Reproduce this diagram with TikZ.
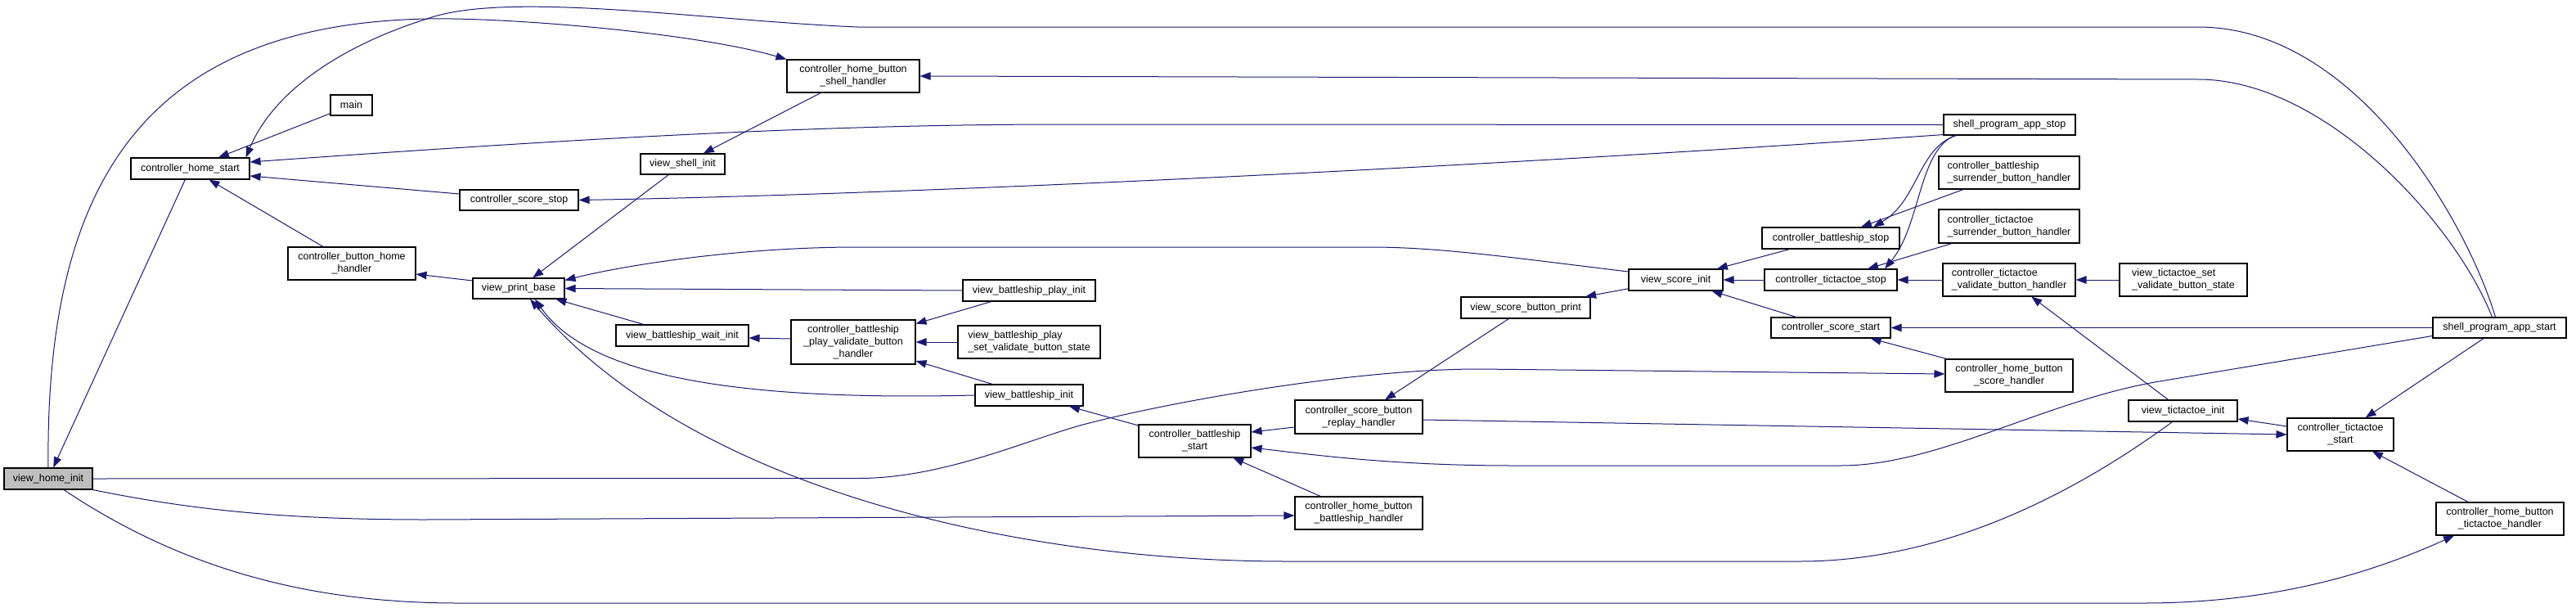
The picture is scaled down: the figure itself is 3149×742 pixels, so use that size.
\documentclass[tikz,border=0pt]{standalone}
\usepackage{fontspec}
\setmainfont{Liberation Sans}
\usepackage{xcolor}
\definecolor{cgedge}{RGB}{25,25,112}
\definecolor{cgroot}{RGB}{191,191,191}
\usepackage{tikz}
\usetikzlibrary{arrows.meta}

\begin{document}
\begin{tikzpicture}[x=1pt,y=-1pt,
  fn/.style={draw=black,fill=white,line width=1.1pt,inner sep=0pt,align=center,
    font=\fontsize{12.5}{15}\selectfont},
  fnl/.style={fn,align=left},
  root/.style={fn,fill=cgroot},
  cg/.style={draw=cgedge,line width=1pt,-{Triangle[length=13pt,width=9.5pt]}}]
  \useasboundingbox (0,0) rectangle (3149,742);

  % functions, one column per call depth
  \node[root,minimum width=108pt,minimum height=26pt] (vhi) at (59,585) {view\_home\_init};
  \node[fn,minimum width=145pt,minimum height=26pt] (chs) at (232.5,206) {controller\_home\_start};
  \node[fn,minimum width=51pt,minimum height=25pt] (main) at (429.5,128.5) {main};
  \node[fn,minimum width=156pt,minimum height=40pt] (cbhh) at (430,322) {controller\_button\_home\\\_handler};
  \node[fn,minimum width=145pt,minimum height=25pt] (css) at (634.5,244.5) {controller\_score\_stop};
  \node[fn,minimum width=112pt,minimum height=25pt] (vpb) at (634,352.5) {view\_print\_base};
  \node[fn,minimum width=103pt,minimum height=25pt] (vsi) at (834.5,200.5) {view\_shell\_init};
  \node[fn,minimum width=162pt,minimum height=26pt] (vbwi) at (834,410) {view\_battleship\_wait\_init};
  \node[fn,minimum width=162pt,minimum height=40pt] (chbsh) at (1043,93) {controller\_home\_button\\\_shell\_handler};
  \node[fn,minimum width=152pt,minimum height=54pt] (cbpvbh) at (1043,418) {controller\_battleship\\\_play\_validate\_button\\\_handler};
  \node[fn,minimum width=162pt,minimum height=26pt] (vbpi) at (1258,355) {view\_battleship\_play\_init};
  \node[fnl,minimum width=174pt,minimum height=40pt] (vbpsvbs) at (1258,418) {view\_battleship\_play\\\_set\_validate\_button\_state};
  \node[fn,minimum width=132pt,minimum height=26pt] (vbi) at (1258,483) {view\_battleship\_init};
  \node[fn,minimum width=137pt,minimum height=40pt] (cbs) at (1460.5,539) {controller\_battleship\\\_start};
  \node[fn,minimum width=156pt,minimum height=41pt] (csbrh) at (1661,509.5) {controller\_score\_button\\\_replay\_handler};
  \node[fn,minimum width=156pt,minimum height=40pt] (chbbh) at (1661,627) {controller\_home\_button\\\_battleship\_handler};
  \node[fn,minimum width=158pt,minimum height=26pt] (vsbp) at (1865,376) {view\_score\_button\_print};
  \node[fn,minimum width=115pt,minimum height=26pt] (vsci) at (2048.5,342) {view\_score\_init};
  \node[fn,minimum width=168pt,minimum height=26pt] (cbstop) at (2238,291) {controller\_battleship\_stop};
  \node[fn,minimum width=162pt,minimum height=26pt] (ctstop) at (2238,342) {controller\_tictactoe\_stop};
  \node[fn,minimum width=146pt,minimum height=25pt] (cssta) at (2238,400.5) {controller\_score\_start};
  \node[fn,minimum width=161pt,minimum height=25pt] (sps) at (2456.5,152.5) {shell\_program\_app\_stop};
  \node[fnl,minimum width=172pt,minimum height=40pt] (cbsbh) at (2456,211) {controller\_battleship\\\_surrender\_button\_handler};
  \node[fnl,minimum width=172pt,minimum height=41pt] (ctsbh) at (2456,276.5) {controller\_tictactoe\\\_surrender\_button\_handler};
  \node[fnl,minimum width=162pt,minimum height=40pt] (ctvbh) at (2456,342) {controller\_tictactoe\\\_validate\_button\_handler};
  \node[fn,minimum width=156pt,minimum height=40pt] (chbsch) at (2456,459) {controller\_home\_button\\\_score\_handler};
  \node[fnl,minimum width=156pt,minimum height=40pt] (vtsvbs) at (2669,342) {view\_tictactoe\_set\\\_validate\_button\_state};
  \node[fn,minimum width=133pt,minimum height=26pt] (vti) at (2668.5,502) {view\_tictactoe\_init};
  \node[fn,minimum width=130pt,minimum height=40pt] (ctsta) at (2861,531) {controller\_tictactoe\\\_start};
  \node[fn,minimum width=163pt,minimum height=25pt] (spas) at (3055.5,400.5) {shell\_program\_app\_start};
  \node[fn,minimum width=156pt,minimum height=40pt] (chbth) at (3056,634) {controller\_home\_button\\\_tictactoe\_handler};

  % calls into the left part
  \draw[cg] (chs) -- (vhi);
  \draw[cg] (main) -- (chs);
  \draw[cg] ([xshift=-5pt]spas.north) .. controls (3015,270) and (2880,33) .. (2687,33)
    -- (1048,33) .. controls (860,25) and (620,-12) .. (522,23)
    .. controls (420,55) and (335,110) .. ([xshift=-5pt]chs.north east);
  \draw[cg] (vhi.north) .. controls (55,220) and (180,30) .. (522,23)
    .. controls (620,21) and (850,40) .. (chbsh.north west);
  \draw[cg] ([xshift=-9pt]spas.north) .. controls (3000,270) and (2840,97) .. (2687,97) -- (chbsh.east);
  \draw[cg] (sps.west) -- (1300,152) .. controls (1000,152) and (700,170) .. ([yshift=8pt]chs.east);
  \draw[cg] ([yshift=1pt]sps.south west) .. controls (1800,205) and (1100,238) .. (css.east);
  \draw[cg] ([yshift=7.5pt]css.west) -- ([yshift=-9pt]chs.east);
  \draw[cg] (cbhh) -- (chs);
  \draw[cg] ([yshift=9.5pt]vpb.west) -- ([yshift=-13pt]cbhh.east);
  \draw[cg] (vsi) -- (vpb);
  \draw[cg] (chbsh) -- (vsi);
  \draw[cg] ([yshift=10pt]vsci.west) .. controls (1850,315) and (1760,302) .. (1675,302)
    -- (1048,302) .. controls (900,302) and (760,325) .. ([yshift=10pt]vpb.east);
  \draw[cg] (vbpi.west) -- (vpb.east);
  \draw[cg] (vbwi) -- (vpb);
  \draw[cg] (vbi.west) .. controls (900,490) and (720,460) .. ([xshift=20pt]vpb.south);
  \draw[cg] ([xshift=-13pt]vti.south) .. controls (2540,600) and (2380,686) .. (2200,686)
    -- (1573,686) .. controls (1250,686) and (850,600) .. ([xshift=14pt]vpb.south);
  \draw[cg] ([yshift=4pt]cbpvbh.west) -- ([yshift=-3pt]vbwi.east);
  \draw[cg] (vbpi) -- (cbpvbh);
  \draw[cg] (vbpsvbs) -- (cbpvbh);
  \draw[cg] (vbi) -- (cbpvbh);

  % long calls out of view_home_init
  \draw[cg] (vhi.east) -- (1050,584.5) .. controls (1150,584.5) and (1250,540) .. (1320,520)
    .. controls (1420,493) and (1650,451) .. (1808,451) -- ([yshift=2pt]chbsch.west);
  \draw[cg] (vhi.south east) .. controls (220,620) and (330,635) .. (520,635) -- ([yshift=-3pt]chbbh.west);
  \draw[cg] ([xshift=19pt]vhi.south) .. controls (200,680) and (350,737) .. (560,737)
    -- (2620,737) .. controls (2780,737) and (2900,700) .. ([xshift=-56pt]chbth.south);

  % battleship and score
  \draw[cg] (chbbh) -- (cbs);
  \draw[cg] ([yshift=-12.5pt]csbrh.west) -- ([yshift=11pt]cbs.east);
  \draw[cg] ([yshift=-10pt]spas.west) -- (2640,466) .. controls (2500,489.5) and (2370,569) .. (2250,569)
    -- (1850,569) .. controls (1700,569) and (1600,555) .. ([yshift=-8pt]cbs.east);
  \draw[cg] (cbs) -- (vbi);
  \draw[cg] (vsci) -- (vsbp);
  \draw[cg] (vsbp) -- (csbrh);
  \draw[cg] ([yshift=-3.5pt]csbrh.east) -- (ctsta.west);

  % right part
  \draw[cg] ([yshift=10pt]ctsta.west) -- ([yshift=-10pt]vti.east);
  \draw[cg] (spas) -- (ctsta);
  \draw[cg] (chbth) -- (ctsta);
  \draw[cg] (spas.west) -- (cssta.east);
  \draw[cg] (chbsch) -- (cssta);
  \draw[cg] (cssta) -- (vsci);
  \draw[cg] (vti) -- (ctvbh);
  \draw[cg] (vtsvbs) -- (ctvbh);
  \draw[cg] (ctvbh) -- (ctstop);
  \draw[cg] (ctstop) -- (vsci);
  \draw[cg] (cbstop) -- (vsci);
  \draw[cg] (cbsbh) -- (cbstop);
  \draw[cg] (ctsbh) -- (ctstop);
  \draw[cg] ([xshift=16pt]sps.south west) .. controls (2345,180) and (2345,245) .. ([xshift=52pt]cbstop.north);
  \draw[cg] ([xshift=14pt]sps.south west) .. controls (2345,185) and (2348,275) .. ([xshift=66pt]ctstop.north);
\end{tikzpicture}
\end{document}
